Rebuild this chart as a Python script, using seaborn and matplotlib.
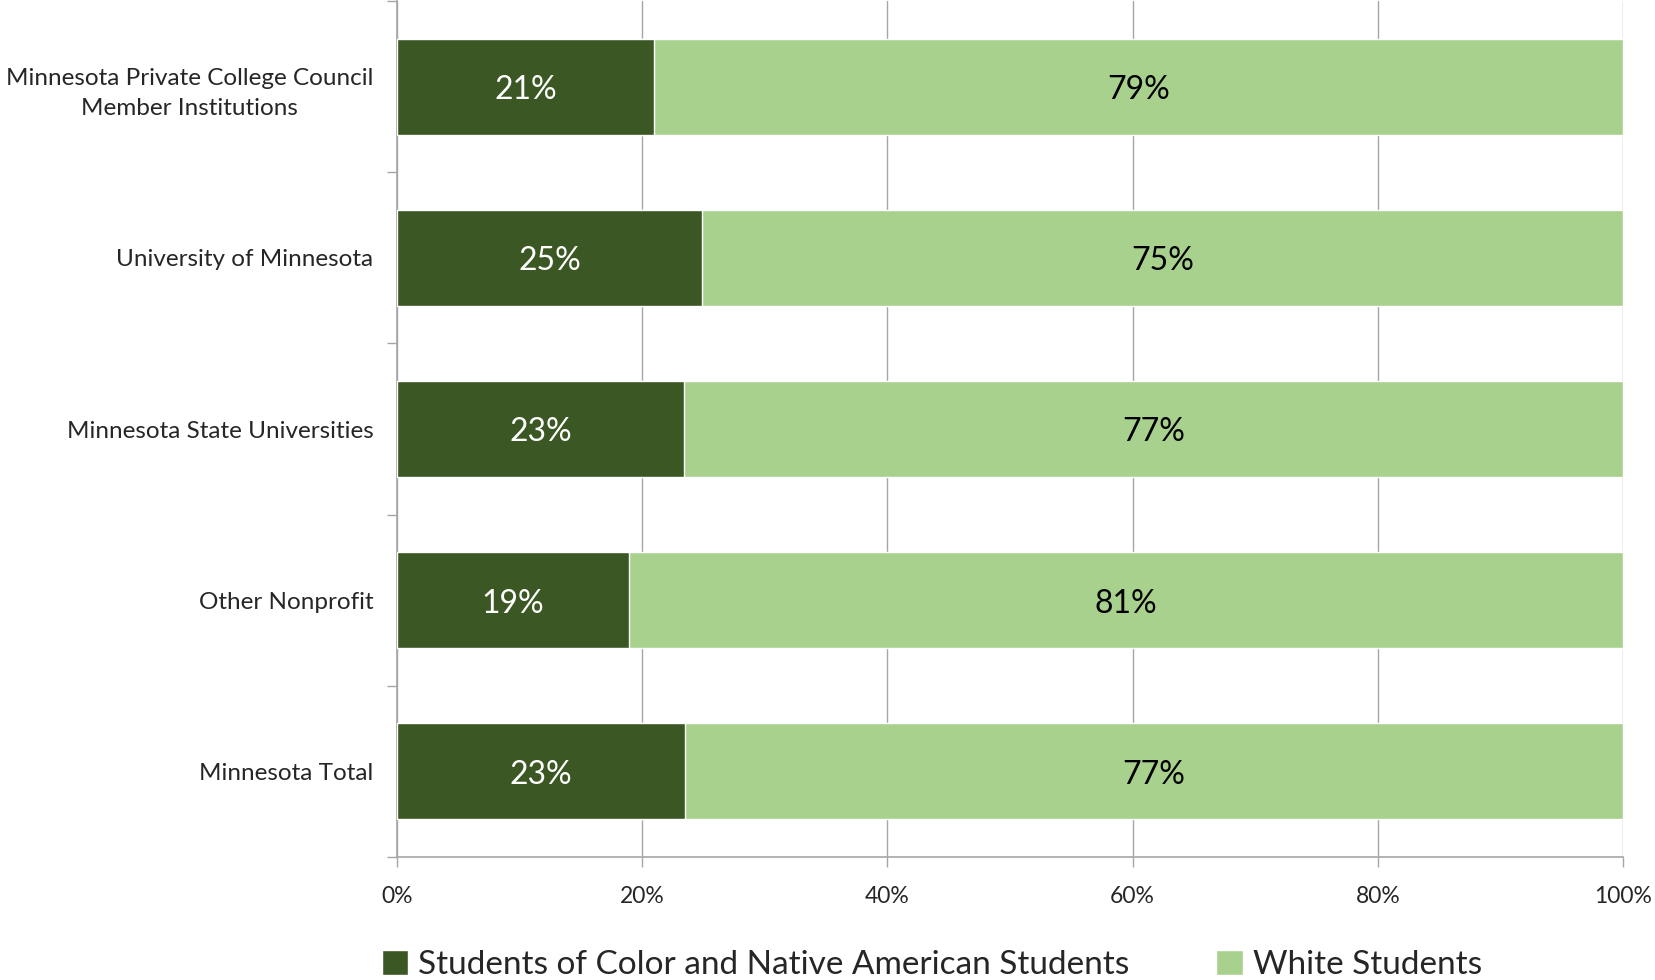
import matplotlib
matplotlib.use("Agg")
import matplotlib.pyplot as plt
from matplotlib.patches import Patch
import seaborn as sns
import pandas as pd
import numpy as np

# --- Data ---
categories = [
    "Minnesota Private College Council\nMember Institutions",
    "University of Minnesota",
    "Minnesota State Universities",
    "Other Nonprofit",
    "Minnesota Total",
]
color_pct = [21.0, 24.9, 23.4, 18.9, 23.5]
white_pct = [79.0, 75.1, 76.6, 81.1, 76.5]
color_labels = ["21%", "25%", "23%", "19%", "23%"]
white_labels = ["79%", "75%", "77%", "81%", "77%"]
x_ticks = [0, 20, 40, 60, 80, 100]

DARK = "#3b5723"
LIGHT = "#a9d18e"
GRID = "#a6a6a6"

sns.set_theme(style="white")
plt.rcParams["font.family"] = ["Lato", "DejaVu Sans"]

df = pd.DataFrame({
    "category": categories,
    "color": color_pct,
    "white": white_pct,
})
df["total"] = df["color"] + df["white"]

fig = plt.figure(figsize=(16.55, 9.8), dpi=100)
ax = fig.add_axes([397 / 1655, 1 - 857 / 980, (1623 - 397) / 1655, (857 - 1) / 980])

sns.barplot(data=df, x="total", y="category", color=LIGHT, width=0.56,
            saturation=1, ax=ax, zorder=2)
sns.barplot(data=df, x="color", y="category", color=DARK, width=0.56,
            saturation=1, ax=ax, zorder=3)

# bar labels
for i, row in df.iterrows():
    ax.text(row["color"] / 2, i + 0.02, color_labels[i], ha="center", va="center",
            color="white", fontsize=23, zorder=4)
    ax.text(row["color"] + row["white"] / 2, i + 0.02, white_labels[i], ha="center",
            va="center", color="black", fontsize=23, zorder=4)

ax.set_xlim(0, 100)
ax.set_ylim(len(categories) - 0.5, -0.5)
ax.set_xticks(x_ticks)
ax.set_xticklabels([f"{t}%" for t in x_ticks], fontsize=16.5)
ax.set_xlabel("")
ax.set_ylabel("")
ax.tick_params(axis="y", labelsize=17.5, length=0, pad=17)
ax.tick_params(axis="x", length=7, width=1, color=GRID, direction="out", pad=14, bottom=True)
for lbl in ax.get_yticklabels():
    lbl.set_multialignment("center")
    lbl.set_linespacing(1.55)

# category boundary ticks on y axis
ax.set_yticks(np.arange(-0.5, len(categories), 1), minor=True)
ax.tick_params(axis="y", which="minor", length=7, width=1, color=GRID, left=True)

ax.grid(axis="x", color=GRID, linewidth=1, zorder=0)
ax.set_axisbelow(True)
for side in ["top", "right"]:
    ax.spines[side].set_visible(False)
for side in ["left", "bottom"]:
    ax.spines[side].set_color(GRID)
    ax.spines[side].set_linewidth(1.2)

handles = [Patch(facecolor=DARK, label="Students of Color and Native American Students"),
           Patch(facecolor=LIGHT, label="White Students")]
fig.legend(handles=handles, loc="center", bbox_to_anchor=(0.563, 1 - 965 / 980),
           ncol=2, frameon=False, fontsize=24, handlelength=0.8, handleheight=0.8,
           handletextpad=0.3, columnspacing=2.6)

fig.savefig("out.png", dpi=100)
